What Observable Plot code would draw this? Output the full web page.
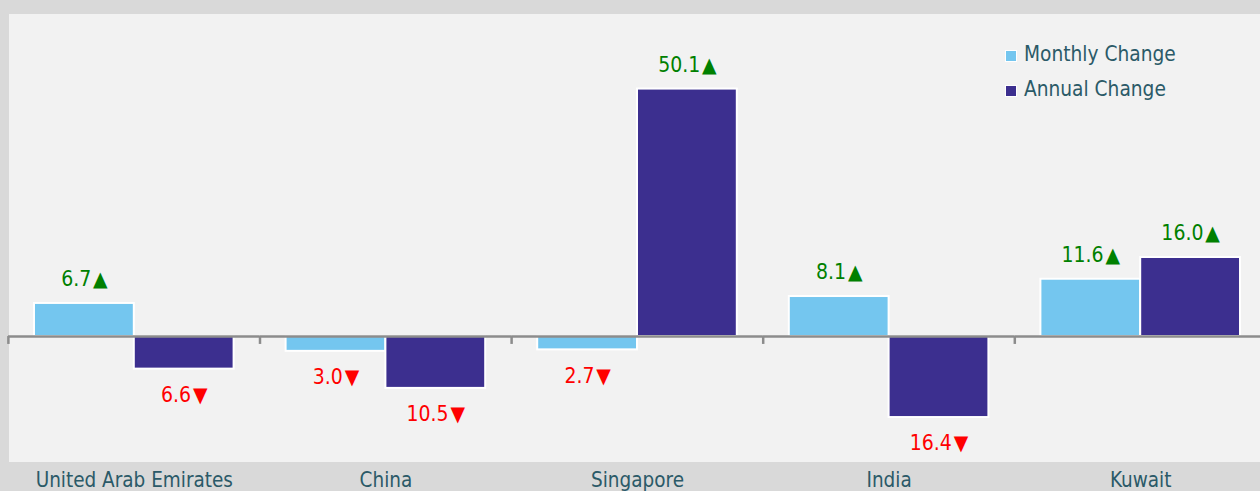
<!DOCTYPE html>
<html>
<head>
<meta charset="utf-8">
<script src="https://cdn.jsdelivr.net/npm/d3@7"></script>
<script src="https://cdn.jsdelivr.net/npm/@observablehq/plot@0.6"></script>
<style>
  html, body { margin: 0; padding: 0; background: #d9d9d9; overflow: hidden; width: 1260px; height: 491px; }
  #wrap { position: relative; width: 1260px; height: 491px; }
  #chart svg { display: block; }
  #legend { position: absolute; left: 1005px; top: 36px; font-family: "DejaVu Sans Condensed", "DejaVu Sans", sans-serif; font-size: 20.7px; color: #2b5a68; }
  .item { display: flex; align-items: center; height: 35px; }
  .sw { width: 12px; height: 12px; box-sizing: border-box; border: 1.5px solid #fff; margin-right: 7px; position: relative; top: 2px; }
</style>
</head>
<body>
<div id="wrap">
  <div id="chart"></div>
  <div id="legend"></div>
</div>
<script>
const countries = ["United Arab Emirates", "China", "Singapore", "India", "Kuwait"];
const series = ["Monthly Change", "Annual Change"];
const monthly = [6.7, -3.0, -2.7, 8.1, 11.6];
const annual = [-6.6, -10.5, 50.1, -16.4, 16.0];
const colors = ["#74c6ef", "#3c2f8f"];

const data = [];
countries.forEach((c, i) => {
  data.push({country: c, series: series[0], value: monthly[i]});
  data.push({country: c, series: series[1], value: annual[i]});
});

const font = '"DejaVu Sans Condensed", "DejaVu Sans", sans-serif';
const label = d => Math.abs(d.value).toFixed(1) + "\u200A" + (d.value >= 0 ? "▲" : "▼");

const chart = Plot.plot({
  width: 1266,
  height: 491,
  marginLeft: 8,
  marginRight: 0,
  marginTop: 13,
  marginBottom: 30,
  style: {background: "#d9d9d9", maxWidth: "none", fontFamily: font, fontSize: "20.5px", color: "#2b5a68"},
  facet: {data, x: "country"},
  fx: {domain: countries, padding: 0, round: false, axis: "bottom", label: null, tickSize: 0, tickPadding: 11},
  x: {domain: series, padding: 0, round: false, insetLeft: 26, insetRight: 26, axis: null},
  y: {domain: [-25.3, 65.4], axis: null},
  color: {domain: series, range: colors},
  marks: [
    Plot.frame({fill: "#f2f2f2", stroke: "none", shapeRendering: "crispEdges"}),
    Plot.barY(data, {x: "series", y: "value", fill: "series", stroke: "white", strokeWidth: 2}),
    Plot.ruleY([0], {stroke: "#8c8c8c", strokeWidth: 2.5}),
    Plot.ruleX([series[0]], {x: d => d, y1: 0, y2: -1.6, dx: -76, stroke: "#8c8c8c", strokeWidth: 2.5}),
    Plot.text(data, {filter: d => d.value >= 0, x: "series", y: "value", text: label, dy: -24, fill: "#008000", fontSize: 21}),
    Plot.text(data, {filter: d => d.value < 0, x: "series", y: "value", text: label, dy: 26, fill: "#ff0000", fontSize: 21})
  ]
});
document.getElementById("chart").appendChild(chart);

const legend = document.getElementById("legend");
series.forEach((s, i) => {
  const item = document.createElement("div");
  item.className = "item";
  const sw = document.createElement("div");
  sw.className = "sw";
  sw.style.background = colors[i];
  const t = document.createElement("span");
  t.textContent = s;
  item.appendChild(sw);
  item.appendChild(t);
  legend.appendChild(item);
});
</script>
</body>
</html>
